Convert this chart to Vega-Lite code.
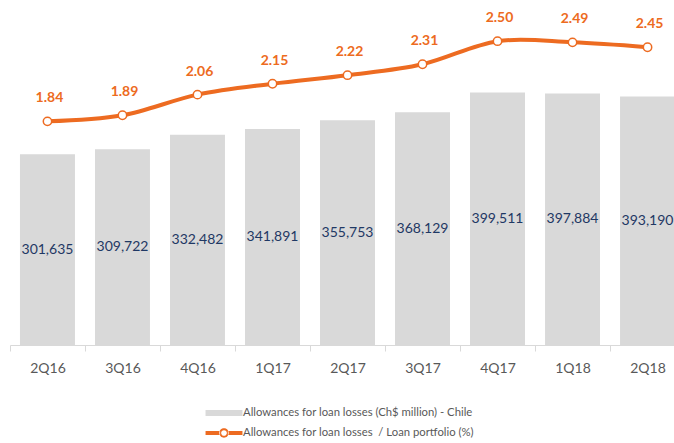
{
  "$schema": "https://vega.github.io/schema/vega-lite/v6.json",
  "width": 664,
  "height": 316,
  "autosize": {"type": "none"},
  "padding": {"left": 10, "top": 29, "right": 0, "bottom": 98},
  "background": "white",
  "config": {"view": {"stroke": null}, "legend": {"layout": {"bottom": {"anchor": "middle"}}}},
  "data": {"values": [
    {"q": "2Q16", "v": 301635, "r": 1.84},
    {"q": "3Q16", "v": 309722, "r": 1.89},
    {"q": "4Q16", "v": 332482, "r": 2.06},
    {"q": "1Q17", "v": 341891, "r": 2.15},
    {"q": "2Q17", "v": 355753, "r": 2.22},
    {"q": "3Q17", "v": 368129, "r": 2.31},
    {"q": "4Q17", "v": 399511, "r": 2.50},
    {"q": "1Q18", "v": 397884, "r": 2.49},
    {"q": "2Q18", "v": 393190, "r": 2.45}
  ]},
  "encoding": {
    "x": {
      "field": "q", "type": "nominal", "sort": null,
      "scale": {"range": [0, 675], "paddingInner": 0.267, "paddingOuter": 0.133},
      "axis": {
        "title": null, "labelAngle": 0,
        "labelFont": "Lato", "labelFontSize": 14, "labelColor": "#595959",
        "domainColor": "#D9D9D9", "tickColor": "#D9D9D9", "tickSize": 6,
        "tickOffset": -37.5, "labelOffset": 37.5, "labelPadding": 10
      }
    }
  },
  "layer": [
    {
      "mark": {"type": "bar"},
      "encoding": {
        "y": {"field": "v", "type": "quantitative", "scale": {"domain": [0, 500000]}, "axis": null},
        "color": {
          "datum": "Allowances for loan losses (Ch$ million) - Chile",
          "type": "nominal",
          "scale": {
            "domain": ["Allowances for loan losses (Ch$ million) - Chile", "Allowances for loan losses \u00a0/ Loan portfolio (%)"],
            "range": ["#D9D9D9", "#ED6B21"]
          },
          "legend": {
            "title": null, "orient": "bottom", "direction": "vertical",
            "offset": 25, "padding": 0, "rowPadding": 1,
            "labelFont": "Lato",
            "labelFontSize": 11.3, "labelColor": "#595959", "labelLimit": 500, "labelOffset": 6,
            "symbolSize": 676,
            "encode": {"symbols": {"update": {
              "shape": {"signal": "datum.index === 0 ? 'M-1.42,-0.23H1.42V0.23H-1.42Z' : 'M-1.42,-0.15H-0.3V0.15H-1.42Z M0.3,-0.15H1.42V0.15H0.3Z M0.36,0A0.36,0.36,0,1,0,-0.36,0A0.36,0.36,0,1,0,0.36,0Z M0.22,0A0.22,0.22,0,1,1,-0.22,0A0.22,0.22,0,1,1,0.22,0Z'"},
              "fill": {"signal": "datum.index === 0 ? '#D9D9D9' : '#ED6B21'"},
              "stroke": {"value": "transparent"},
              "strokeWidth": {"value": 0},
              "size": {"value": 676},
              "opacity": {"value": 1}
            }}}
          }
        }
      }
    },
    {
      "mark": {"type": "text", "font": "Lato", "fontSize": 14, "color": "#1F3864", "baseline": "middle"},
      "encoding": {
        "y": {"field": "v", "type": "quantitative", "scale": {"domain": [0, 1000000]}, "axis": null},
        "text": {"field": "v", "type": "quantitative", "format": ",d"}
      }
    },
    {
      "mark": {"type": "line", "interpolate": "cardinal", "strokeWidth": 4},
      "encoding": {
        "y": {"field": "r", "type": "quantitative", "scale": {"domain": [0, 2.6]}, "axis": null},
        "color": {"datum": "Allowances for loan losses \u00a0/ Loan portfolio (%)", "type": "nominal"}
      }
    },
    {
      "mark": {"type": "point", "filled": true, "fill": "white", "stroke": "#ED6B21", "strokeWidth": 1.5, "size": 70, "opacity": 1},
      "encoding": {
        "y": {"field": "r", "type": "quantitative", "scale": {"domain": [0, 2.6]}, "axis": null}
      }
    },
    {
      "mark": {"type": "text", "font": "Lato", "fontSize": 14, "fontWeight": "bold", "color": "#ED6B21", "baseline": "middle", "dy": -23, "dx": 2},
      "encoding": {
        "y": {"field": "r", "type": "quantitative", "scale": {"domain": [0, 2.6]}, "axis": null},
        "text": {"field": "r", "type": "quantitative", "format": ".2f"}
      }
    }
  ],
  "resolve": {"scale": {"y": "independent"}}
}
